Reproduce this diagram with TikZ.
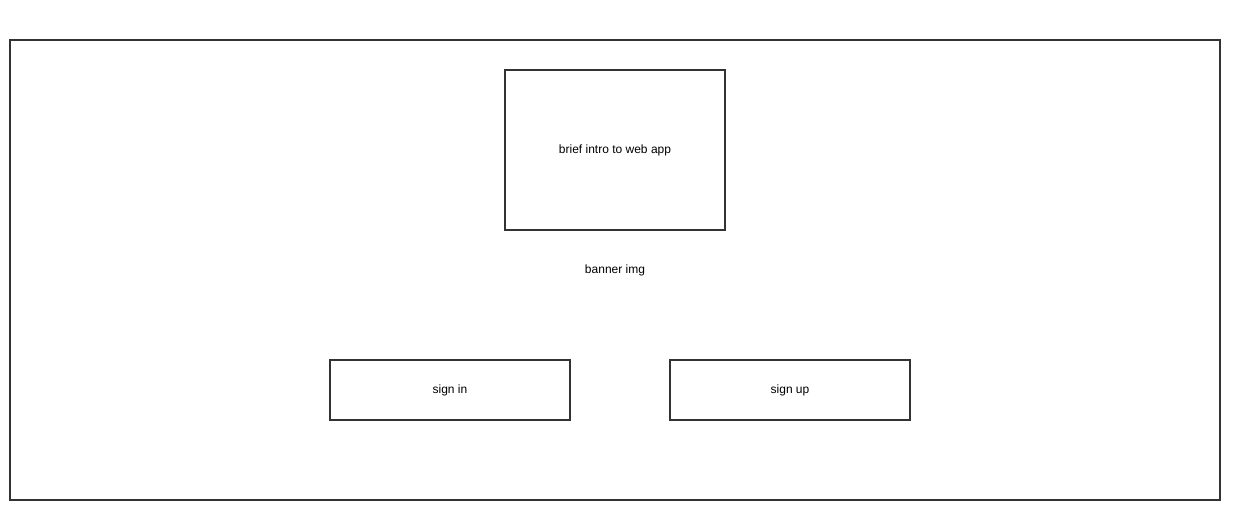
\documentclass[tikz,border=0pt]{standalone}
\usepackage{fontspec}
\setmainfont{Liberation Sans}
\usepackage{tikz}

\tikzset{
  box/.style={draw=black!80, line width=1.5pt, fill=white, inner sep=0pt},
  lbl/.style={font=\fontsize{12}{14}\selectfont, text=black}
}

\begin{document}
\begin{tikzpicture}[x=1pt,y=-1pt]
                    \useasboundingbox (0,0) rectangle (1246,520);
                    \node[box, minimum width=1210pt, minimum height=460pt] (page) at (615,270) {};
                    \node[box, minimum width=220pt, minimum height=160pt, lbl] (intro) at (615,150) {brief intro to web app};
                    \node[lbl] (banner) at (615,270) {banner img};
                    \node[box, minimum width=240pt, minimum height=60pt, lbl] (signin) at (450,390) {sign in};
                    \node[box, minimum width=240pt, minimum height=60pt, lbl] (signup) at (790,390) {sign up};
                 \end{tikzpicture}
\end{document}
